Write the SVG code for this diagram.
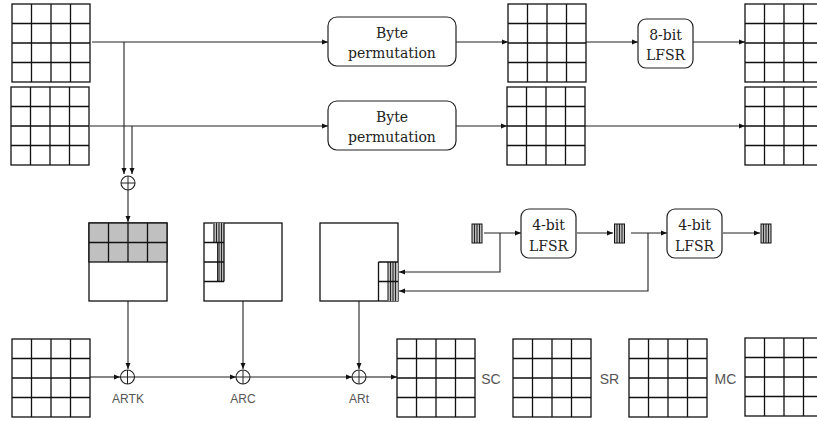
<svg xmlns="http://www.w3.org/2000/svg" xmlns:xlink="http://www.w3.org/1999/xlink" width="817" height="421" viewBox="0 0 817 421">
<style>
.g{fill:#fff;stroke:#111;stroke-width:1.3}
.gl{stroke:#111;stroke-width:1.3;fill:none}
.box{fill:#fff;stroke:#222;stroke-width:1.2}
.c{fill:none;stroke:#222;stroke-width:1.1}
.st{fill:none;stroke:#111;stroke-width:0.9}
.sv{font-family:"DejaVu Serif","Liberation Serif",serif;font-size:14px;fill:#222;text-anchor:middle}
.sa{font-family:"Liberation Sans",Arial,sans-serif;fill:#555;text-anchor:middle}
.xo{fill:#fff;stroke:#222;stroke-width:1.1}
</style>
<defs>
<marker id="ar" markerUnits="userSpaceOnUse" markerWidth="7" markerHeight="6" refX="6" refY="3" orient="auto">
<path d="M0,0.5 L6,3 L0,5.5 z" fill="#111"/>
</marker>
<g id="grid">
<rect class="g" x="0" y="0" width="78" height="78"/>
<path class="gl" d="M19.5,0V78M39,0V78M58.5,0V78M0,19.5H78M0,39H78M0,58.5H78"/>
</g>
<g id="nib">
<rect x="0" y="0" width="10" height="19" fill="#bbb" stroke="#111" stroke-width="1"/>
<path d="M2.5,0V19M5,0V19M7.5,0V19" stroke="#111" stroke-width="0.9"/>
</g>
<g id="xor">
<circle class="xo" cx="0" cy="0" r="7"/>
<path d="M-7,0H7M0,-7V7" stroke="#222" stroke-width="1"/>
</g>
</defs>

<g id="connectors">
<path class="c" d="M92,42H328" marker-end="url(#ar)"/>
<path class="c" d="M124,42V174" marker-end="url(#ar)"/>
<path class="c" d="M90,126H328" marker-end="url(#ar)"/>
<path class="c" d="M132,126V174" marker-end="url(#ar)"/>
<path class="c" d="M128,190V222" marker-end="url(#ar)"/>
<path class="c" d="M456,42H508" marker-end="url(#ar)"/>
<path class="c" d="M586,42H638" marker-end="url(#ar)"/>
<path class="c" d="M693,42H745" marker-end="url(#ar)"/>
<path class="c" d="M456,126H507" marker-end="url(#ar)"/>
<path class="c" d="M585,126H745" marker-end="url(#ar)"/>
<path class="c" d="M484,233H521" marker-end="url(#ar)"/>
<path class="c" d="M500,233V272H399" marker-end="url(#ar)"/>
<path class="c" d="M577,233H613" marker-end="url(#ar)"/>
<path class="c" d="M631,233H667" marker-end="url(#ar)"/>
<path class="c" d="M648,233V291H399" marker-end="url(#ar)"/>
<path class="c" d="M723,233H760" marker-end="url(#ar)"/>
<path class="c" d="M128,301V369" marker-end="url(#ar)"/>
<path class="c" d="M243,301V369" marker-end="url(#ar)"/>
<path class="c" d="M359,301V369" marker-end="url(#ar)"/>
<path class="c" d="M90,377H120" marker-end="url(#ar)"/>
<path class="c" d="M135,377H236" marker-end="url(#ar)"/>
<path class="c" d="M250,377H352" marker-end="url(#ar)"/>
<path class="c" d="M366,377H397" marker-end="url(#ar)"/>
</g>

<g id="m_in1"><use xlink:href="#grid" href="#grid" transform="translate(12,4)"/></g>
<g id="m_in2"><use xlink:href="#grid" href="#grid" transform="translate(11,87)"/></g>

<g id="bp1">
<rect class="box" x="328" y="17" width="128" height="49" rx="9"/>
<text class="sv" x="392" y="38">Byte</text>
<text class="sv" x="392" y="58">permutation</text>
</g>
<g id="bp2">
<rect class="box" x="328" y="101" width="128" height="49" rx="9"/>
<text class="sv" x="392" y="122">Byte</text>
<text class="sv" x="392" y="142">permutation</text>
</g>

<g id="m_p1"><use xlink:href="#grid" href="#grid" transform="translate(508,4)"/></g>
<g id="m_p2"><use xlink:href="#grid" href="#grid" transform="translate(507,87)"/></g>

<g id="lfsr8">
<rect class="box" x="638" y="19" width="55" height="49" rx="8"/>
<text class="sv" x="665.5" y="40">8-bit</text>
<text class="sv" x="665.5" y="60">LFSR</text>
</g>

<g id="m_out1"><use xlink:href="#grid" href="#grid" transform="translate(745,4)"/></g>
<g id="m_out2"><use xlink:href="#grid" href="#grid" transform="translate(745,87)"/></g>

<g id="xor_top"><use xlink:href="#xor" href="#xor" transform="translate(128,183)"/></g>

<g id="m_tk">
<rect class="g" x="89" y="223" width="78" height="78"/>
<rect x="89" y="223" width="78" height="39" fill="#c0c0c0" stroke="#111" stroke-width="1.3"/>
<path class="gl" d="M108.5,223V262M128,223V262M147.5,223V262M89,242.5H167"/>
</g>

<g id="m_rc">
<rect class="g" x="204" y="223" width="78" height="78"/>
<rect x="213" y="223" width="11" height="19.5" fill="#bbb"/>
<rect x="217.5" y="242.5" width="6.5" height="39" fill="#bbb"/>
<path class="st" d="M214,223V242.5M216.5,223V242.5M219,223V281.5M221.5,223V281.5M217.5,242.5V281.5"/>
<path class="gl" d="M204,242.5H224M204,262H224M204,281.5H224M224,223V281.5"/>
</g>

<g id="m_t">
<rect class="g" x="320" y="223" width="78" height="78"/>
<rect x="387.5" y="262" width="10.5" height="39" fill="#bbb"/>
<path class="st" d="M388,262V301M390.5,262V301M393,262V301M395.5,262V301"/>
<path class="gl" d="M378.5,262H398M378.5,281.5H398M378.5,262V301"/>
</g>

<g id="nib1"><use xlink:href="#nib" href="#nib" transform="translate(472,224)"/></g>
<g id="lfsr4a">
<rect class="box" x="521" y="209" width="55" height="49" rx="8"/>
<text class="sv" x="548.5" y="230">4-bit</text>
<text class="sv" x="548.5" y="250.5">LFSR</text>
</g>
<g id="nib2"><use xlink:href="#nib" href="#nib" transform="translate(614.5,224)"/></g>
<g id="lfsr4b">
<rect class="box" x="667" y="209" width="55" height="49" rx="8"/>
<text class="sv" x="694.5" y="230">4-bit</text>
<text class="sv" x="694.5" y="250.5">LFSR</text>
</g>
<g id="nib3"><use xlink:href="#nib" href="#nib" transform="translate(761,224)"/></g>

<g id="m_state"><use xlink:href="#grid" href="#grid" transform="translate(12,339)"/></g>

<g id="artk"><use xlink:href="#xor" href="#xor" transform="translate(127.5,377)"/><text class="sa" x="128" y="403" font-size="12">ARTK</text></g>
<g id="arc"><use xlink:href="#xor" href="#xor" transform="translate(243,377)"/><text class="sa" x="243" y="403" font-size="12">ARC</text></g>
<g id="art"><use xlink:href="#xor" href="#xor" transform="translate(359,377)"/><text class="sa" x="359" y="403" font-size="12">ARt</text></g>

<g id="m_s1"><use xlink:href="#grid" href="#grid" transform="translate(397,339)"/></g>
<g id="sc"><text class="sa" x="491" y="384" font-size="14">SC</text></g>
<g id="m_s2"><use xlink:href="#grid" href="#grid" transform="translate(513,339)"/></g>
<g id="sr"><text class="sa" x="609.5" y="384" font-size="14">SR</text></g>
<g id="m_s3"><use xlink:href="#grid" href="#grid" transform="translate(629,339)"/></g>
<g id="mc"><text class="sa" x="725.5" y="384" font-size="14">MC</text></g>
<g id="m_s4"><use xlink:href="#grid" href="#grid" transform="translate(745,338)"/></g>
</svg>
